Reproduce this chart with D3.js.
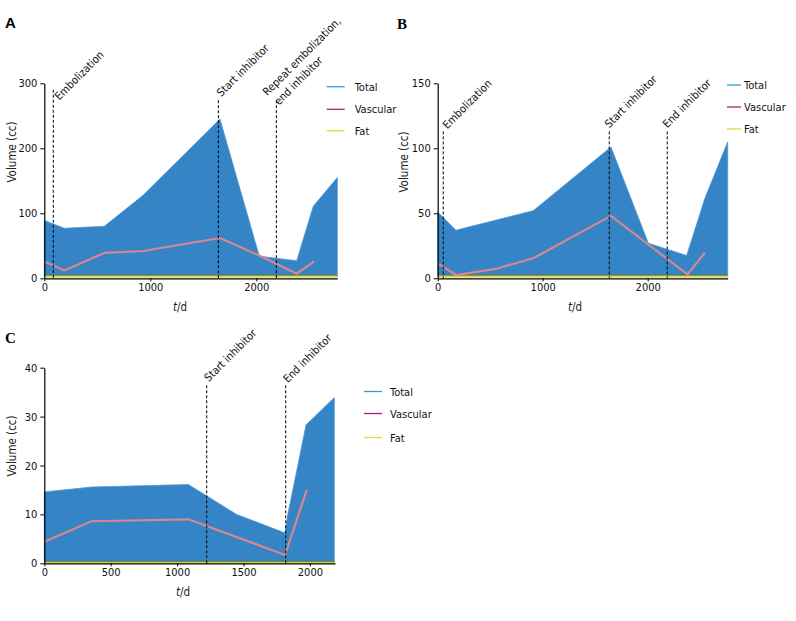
<!DOCTYPE html>
<html><head><meta charset="utf-8">
<script src="https://cdn.jsdelivr.net/npm/d3@7"></script>
<style>
body{margin:0;background:#fff;}
svg{display:block;}
text{font-family:"DejaVu Sans Condensed","Liberation Sans",sans-serif;}
</style></head><body>
<svg id="c" width="796" height="621"></svg>
<script>
// ---- Data ----
const seriesNames = ["Total", "Vascular", "Fat"];

// Panel A
const aTotalT = [0, 189, 566, 934, 1657, 2028, 2381, 2538, 2764];
const aTotalV = [89, 77, 80, 128, 245, 34, 27, 111, 155];
const aVascT  = [0, 189, 566, 934, 1657, 2028, 2381, 2545];
const aVascV  = [26, 12, 39, 42, 62, 35, 7, 26];
const aFatT   = [0, 2764];
const aFatV   = [3, 3];
const aEventT = [85, 1642, 2189];
const aEventTop = [290, 274, 274];
const aEventLabels = [["Embolization"], ["Start inhibitor"], ["Repeat embolization,", "end inhibitor"]];
const aXTicks = [0, 1000, 2000];
const aYTicks = [0, 100, 200, 300];

// Panel B
const bTotalT = [0, 174, 910, 1650, 2006, 2371, 2545, 2762];
const bTotalV = [51, 37, 52, 101, 27, 17.5, 61.5, 105];
const bVascT  = [0, 174, 566, 910, 1650, 2006, 2380, 2545];
const bVascV  = [11.5, 2.5, 7.5, 15.4, 48, 26, 3, 19.7];
const bFatT   = [0, 2762];
const bFatV   = [1.5, 1.5];
const bEventT = [53, 1634, 2186];
const bEventTop = [113, 113, 113];
const bEventLabels = [["Embolization"], ["Start inhibitor"], ["End inhibitor"]];
const bXTicks = [0, 1000, 2000];
const bYTicks = [0, 50, 100, 150];

// Panel C
const cTotalT = [0, 357, 1085, 1448, 1813, 1830, 1971, 2184];
const cTotalV = [14.6, 15.6, 16.1, 10, 6.2, 9.5, 28.3, 33.9];
const cVascT  = [0, 357, 1085, 1813, 1976];
const cVascV  = [4.4, 8.6, 9, 1.7, 15];
const cFatT   = [0, 2189];
const cFatV   = [0.15, 0.15];
const cEventT = [1223, 1818];
const cEventTop = [36.4, 36.4];
const cEventLabels = [["Start inhibitor"], ["End inhibitor"]];
const cXTicks = [0, 500, 1000, 1500, 2000];
const cYTicks = [0, 10, 20, 30, 40];

// ---- Styles ----
const areaColor = "#3584c6";
const vascPlotColor = "#d8868f";
const fatPlotColor = "#d6d43c";
const legendColors = ["#2f9ed2", "#a3207e", "#e6dc2e"];

const svg = d3.select("#c");

function zip(t, v){ return t.map((d,i)=>({t:d, v:v[i]})); }

function panel(cfg){
  const g = svg.append("g");
  const x = d3.scaleLinear().domain([0, cfg.xMax]).range([cfg.left, cfg.right]);
  const y = d3.scaleLinear().domain([0, cfg.yMax]).range([cfg.bottom, cfg.top]);

  // area
  const tot = zip(cfg.totalT, cfg.totalV);
  g.append("path").datum(tot)
    .attr("fill", areaColor)
    .attr("stroke", "#4b98d6").attr("stroke-width", 0.8)
    .attr("d", d3.area().x(d=>x(d.t)).y0(y(cfg.fatV[0])).y1(d=>y(d.v)));

  // fat line
  g.append("path").datum(zip(cfg.fatT, cfg.fatV))
    .attr("fill","none").attr("stroke", fatPlotColor).attr("stroke-width", 2.2)
    .attr("d", d3.line().x(d=>x(d.t)).y(d=>y(d.v)));
  g.append("path").datum(zip(cfg.fatT, cfg.fatV))
    .attr("fill","none").attr("stroke", "#556a3a").attr("stroke-width", 0.7)
    .attr("transform","translate(0,-1.3)")
    .attr("d", d3.line().x(d=>x(d.t)).y(d=>y(d.v)));

  // vascular
  g.append("path").datum(zip(cfg.vascT, cfg.vascV))
    .attr("fill","none").attr("stroke", vascPlotColor).attr("stroke-width", 2.2)
    .attr("stroke-linejoin","round")
    .attr("d", d3.line().x(d=>x(d.t)).y(d=>y(d.v)));

  // event lines
  cfg.eventT.forEach((t,i)=>{
    g.append("line")
      .attr("x1", x(t)).attr("x2", x(t))
      .attr("y1", y(cfg.eventTop[i])).attr("y2", y(0))
      .attr("stroke","#000").attr("stroke-width",1).attr("stroke-dasharray","3,2");
    const off = cfg.labelOff[i];
    const tx = x(t) + off[0], ty = y(cfg.eventTop[i]) + off[1];
    const txt = g.append("text")
      .attr("transform", `translate(${tx},${ty}) rotate(-45)`)
      .attr("font-size", 11).attr("fill","#111");
    cfg.eventLabels[i].forEach((s,j)=>{
      txt.append("tspan").attr("x", j? 1.5:0).attr("dy", j? "1.35em":0).text(s);
    });
  });

  // axes
  const ya = g.append("g").attr("transform",`translate(${cfg.left},0)`)
    .call(d3.axisLeft(y).tickValues(cfg.yTicks).tickSize(4).tickSizeOuter(0).tickPadding(3).tickFormat(d3.format("d")));
  const xa = g.append("g").attr("transform",`translate(0,${cfg.bottom})`)
    .call(d3.axisBottom(x).tickValues(cfg.xTicks).tickSize(3).tickSizeOuter(0).tickPadding(2).tickFormat(d3.format("d")));
  [ya, xa].forEach(a=>{
    a.selectAll("text").attr("font-size", 11).attr("fill","#111")
      .style("font-family",'"DejaVu Sans Condensed","Liberation Sans",sans-serif');
    a.select(".domain").attr("stroke","#000").attr("stroke-width",1.2);
    a.selectAll(".tick line").attr("stroke","#000");
  });

  // axis titles
  g.append("text")
    .attr("transform", `translate(${cfg.yTitle[0]},${cfg.yTitle[1]}) rotate(-90)`)
    .attr("text-anchor","middle").attr("font-size", 11.5).attr("fill","#222")
    .text("Volume (cc)");
  const xt = g.append("text")
    .attr("x", cfg.xTitle[0]).attr("y", cfg.xTitle[1])
    .attr("text-anchor","middle").attr("font-size", 11.5).attr("fill","#222");
  xt.append("tspan").attr("font-style","italic").text("t");
  xt.append("tspan").text("/d");

  // legend
  seriesNames.forEach((s,i)=>{
    const ly = cfg.legend[1] + cfg.legendGap[i];
    g.append("line").attr("x1", cfg.legend[0]).attr("x2", cfg.legend[0]+cfg.legendLen)
      .attr("y1", ly).attr("y2", ly).attr("stroke", legendColors[i]).attr("stroke-width",1.3);
    g.append("text").attr("x", cfg.legend[0]+cfg.legendLen+cfg.legendTextGap).attr("y", ly+4)
      .attr("font-size", 11).attr("fill","#111").text(s);
  });

  // panel letter
  g.append("text").attr("x", cfg.letterPos[0]).attr("y", cfg.letterPos[1])
    .attr("font-size", 15).attr("font-weight","bold").attr("fill","#000")
    .style("font-family", cfg.letterFont).text(cfg.letter);
}

panel({
  letter:"A", letterPos:[5,28], letterFont:'"Liberation Sans",Arial,sans-serif',
  xMax:2764, yMax:300, left:44.3, right:337.3, top:83.3, bottom:278.3,
  totalT:aTotalT, totalV:aTotalV, vascT:aVascT, vascV:aVascV, fatT:aFatT, fatV:aFatV,
  eventT:aEventT, eventTop:aEventTop, eventLabels:aEventLabels,
  labelOff:[[6,11],[3,-3],[-9,-4]],
  xTicks:aXTicks, yTicks:aYTicks,
  yTitle:[16,152], xTitle:[180,311],
  legend:[326.7,86.7], legendGap:[0,22.6,44], legendLen:18, legendTextGap:10
});
panel({
  letter:"B", letterPos:[397,29], letterFont:'"Liberation Serif","Times New Roman",serif',
  xMax:2762, yMax:150, left:437.7, right:727.7, top:83.3, bottom:278.3,
  totalT:bTotalT, totalV:bTotalV, vascT:bVascT, vascV:bVascV, fatT:bFatT, fatV:bFatV,
  eventT:bEventT, eventTop:bEventTop, eventLabels:bEventLabels,
  labelOff:[[4,-2],[0,-3],[0,-3]],
  xTicks:bXTicks, yTicks:bYTicks,
  yTitle:[408,162], xTitle:[575,311],
  legend:[727,85], legendGap:[0,22,44], legendLen:14, legendTextGap:3
});
panel({
  letter:"C", letterPos:[5,343], letterFont:'"Liberation Serif","Times New Roman",serif',
  xMax:2189, yMax:40, left:44.3, right:335, top:367.7, bottom:563.3,
  totalT:cTotalT, totalV:cTotalV, vascT:cVascT, vascV:cVascV, fatT:cFatT, fatV:cFatV,
  eventT:cEventT, eventTop:cEventTop, eventLabels:cEventLabels,
  labelOff:[[2,-3],[2,-2]],
  xTicks:cXTicks, yTicks:cYTicks,
  yTitle:[16,446], xTitle:[183,596],
  legend:[364,391.5], legendGap:[0,22,46], legendLen:18, legendTextGap:8
});
</script>
</body></html>
